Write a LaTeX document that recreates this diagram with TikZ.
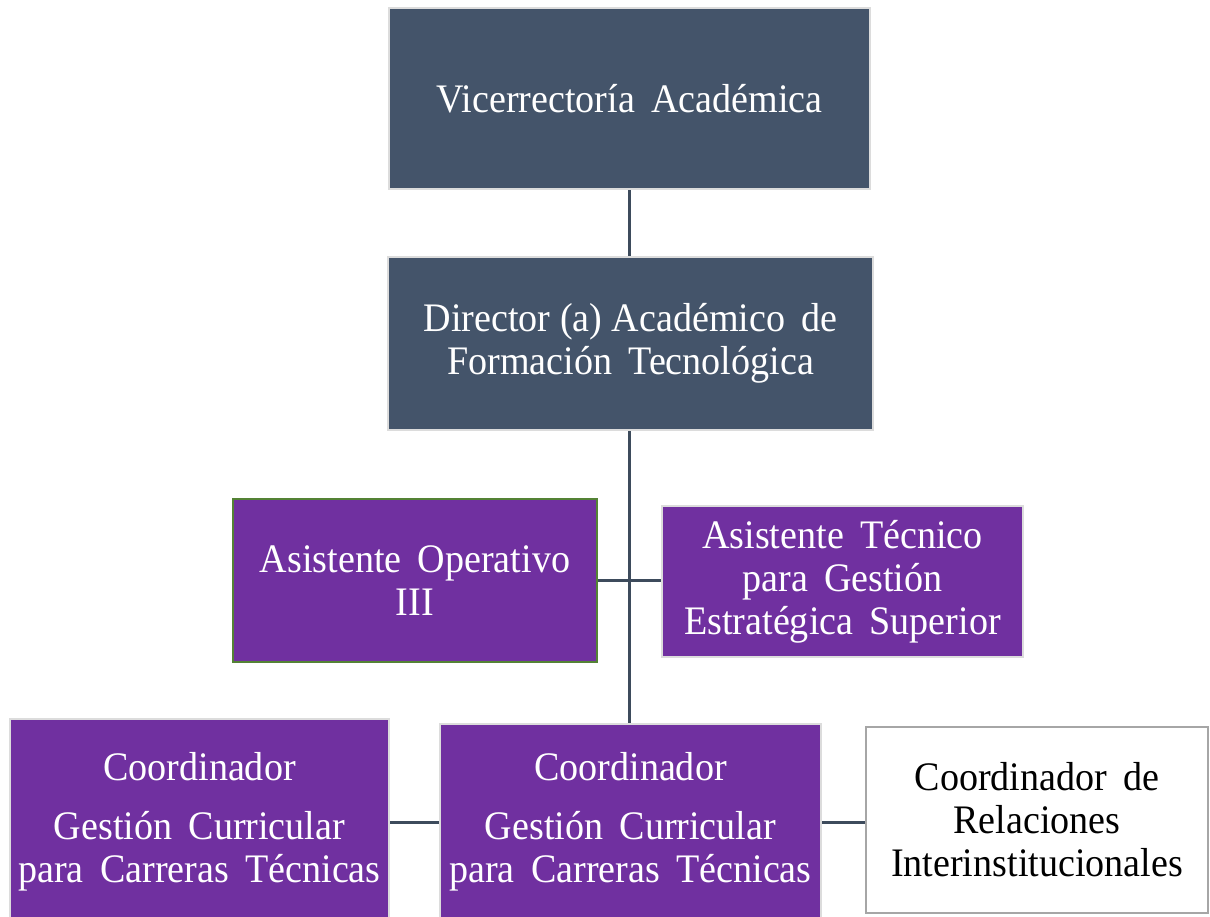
\documentclass[tikz,border=0pt]{standalone}
\usepackage{fontspec}
\setmainfont[FakeStretch=0.94]{Liberation Serif}
\definecolor{navyc}{HTML}{44546A}
\definecolor{purpc}{HTML}{7030A0}
\definecolor{bordc}{HTML}{DCDCDC}
\definecolor{greenb}{HTML}{548235}
\definecolor{grayb}{HTML}{A6A6A6}
\definecolor{linkc}{HTML}{3D4B5C}
\begin{document}
\begin{tikzpicture}[x=1pt,y=-1pt,
  box/.style={draw, line width=2pt, inner sep=0pt, align=center,
    font=\fontsize{40.5}{43}\selectfont},
  navy/.style={box, fill=navyc, draw=bordc, text=white},
  purp/.style={box, fill=purpc, draw=bordc, text=white},
  plain/.style={box, fill=white, draw=grayb, text=black},
  link/.style={draw=linkc, line width=3pt}]
\useasboundingbox (0,0) rectangle (1210,917);
\clip (0,0) rectangle (1210,917);
\node[navy, minimum width=481pt, minimum height=181pt] (v) at (629.5,99) {Vicerrectoría\, Académica};
\node[navy, minimum width=485pt, minimum height=173pt] (d) at (630.5,343.5) {Director (a) Académico\, de\\Formación\, Tecnológica};
\node[purp, draw=greenb, minimum width=364pt, minimum height=163pt] (ao) at (415,580.5) {Asistente\, Operativo\\III};
\node[purp, minimum width=361pt, minimum height=151pt] (at) at (842.5,581.5) {Asistente\, Técnico\\para\, Gestión\\Estratégica\, Superior};
\node[purp, minimum width=379pt, minimum height=206pt] (cl) at (199.5,822) {Coordinador\\[16pt] Gestión\, Curricular\\para\, Carreras\, Técnicas};
\node[purp, minimum width=381pt, minimum height=196pt] (cc) at (630.5,822) {Coordinador\\[16pt] Gestión\, Curricular\\para\, Carreras\, Técnicas};
\node[plain, minimum width=342pt, minimum height=186pt] (cr) at (1037,820) {Coordinador\, de\\Relaciones\\Interinstitucionales};
\draw[link] (v.south -| 629,0) -- (d.north -| 629,0);
\draw[link] (d.south -| 629,0) -- (cc.north -| 629,0);
\draw[link] (ao.east) -- (ao.east -| at.west);
\draw[link] (cl.east) -- (cc.west);
\draw[link] (cc.east) -- (cc.east -| cr.west);
\end{tikzpicture}
\end{document}
